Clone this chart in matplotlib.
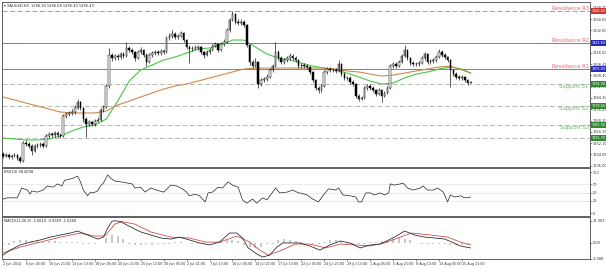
import matplotlib
matplotlib.use('Agg')
import matplotlib.pyplot as plt
import matplotlib.transforms as mtransforms
import numpy as np

# XAUUSD H4 candles (one candle per two H4 bars)
first_open = 1244.3
closes = [1242.9, 1243.6, 1242.1, 1242.9, 1243.6, 1241.4, 1239.3, 1252.1, 1251.4, 1250.0,
          1246.4, 1250.0, 1250.7, 1251.4, 1250.0, 1257.1, 1258.6, 1257.9, 1259.3, 1257.9,
          1257.1, 1271.4, 1272.9, 1273.6, 1274.3, 1277.1, 1281.4, 1277.1, 1269.3, 1265.7,
          1267.1, 1265.7, 1267.9, 1268.6, 1275.7, 1277.9, 1292.9, 1315.0, 1312.9, 1314.3,
          1313.6, 1315.7, 1314.3, 1320.0, 1318.6, 1317.1, 1312.9, 1317.1, 1318.6, 1315.0,
          1310.0, 1315.0, 1316.4, 1317.1, 1316.4, 1317.9, 1317.1, 1327.1, 1328.6, 1330.0,
          1327.9, 1328.6, 1330.7, 1325.7, 1320.7, 1319.3, 1320.0, 1320.0, 1320.7, 1317.1,
          1315.0, 1317.1, 1318.6, 1321.4, 1322.9, 1318.6, 1322.9, 1324.3, 1332.9, 1340.0,
          1344.3, 1338.6, 1337.9, 1338.6, 1336.4, 1322.1, 1310.0, 1307.1, 1310.0, 1294.3,
          1297.1, 1297.9, 1299.3, 1304.3, 1307.1, 1317.1, 1312.9, 1310.0, 1311.4, 1312.9,
          1314.3, 1312.9, 1311.4, 1307.1, 1307.9, 1307.1, 1306.4, 1302.9, 1297.1, 1291.4,
          1290.0, 1292.9, 1302.9, 1305.0, 1304.3, 1304.3, 1303.6, 1308.6, 1301.4, 1298.6,
          1298.6, 1295.7, 1294.3, 1285.7, 1283.6, 1284.3, 1291.4, 1292.9, 1291.4, 1290.0,
          1287.1, 1290.0, 1285.7, 1287.9, 1291.4, 1307.1, 1308.6, 1307.1, 1310.0, 1314.3,
          1318.6, 1312.9, 1309.3, 1308.6, 1308.6, 1309.3, 1312.9, 1315.7, 1310.0, 1310.7,
          1311.4, 1313.6, 1317.1, 1315.0, 1313.6, 1311.4, 1304.3, 1301.4, 1299.3, 1298.6,
          1299.3, 1297.1, 1295.0, 1295.4]
highs = [1245.6, 1245.0, 1244.9, 1244.2, 1245.3, 1244.4, 1242.6, 1253.6, 1254.0, 1252.7,
         1251.1, 1251.4, 1252.3, 1253.1, 1252.6, 1258.6, 1260.0, 1259.8, 1260.7, 1260.4,
         1259.0, 1272.9, 1274.6, 1275.2, 1276.1, 1279.3, 1283.6, 1282.5, 1278.0, 1270.4,
         1268.9, 1268.2, 1269.3, 1270.4, 1277.0, 1279.6, 1294.3, 1320.0, 1316.6, 1316.0,
         1315.9, 1317.4, 1316.9, 1324.3, 1321.6, 1320.0, 1318.0, 1318.9, 1320.4, 1319.6,
         1316.1, 1316.4, 1318.2, 1318.8, 1318.5, 1319.6, 1319.3, 1328.6, 1330.4, 1332.9,
         1331.2, 1330.3, 1332.3, 1331.6, 1326.8, 1321.9, 1321.8, 1321.9, 1322.4, 1321.6,
         1318.2, 1318.6, 1320.3, 1323.0, 1324.5, 1323.8, 1324.3, 1326.2, 1334.3, 1341.6,
         1346.4, 1345.3, 1340.4, 1340.5, 1339.7, 1337.3, 1323.0, 1311.5, 1313.2, 1311.0,
         1298.6, 1299.5, 1301.1, 1305.8, 1308.9, 1324.3, 1318.4, 1314.0, 1313.0, 1314.6,
         1316.1, 1315.6, 1314.2, 1312.3, 1309.6, 1309.2, 1308.5, 1307.5, 1303.8, 1298.2,
         1292.6, 1294.3, 1304.4, 1306.6, 1306.2, 1306.0, 1305.5, 1311.4, 1309.5, 1302.6,
         1300.3, 1299.7, 1297.0, 1295.2, 1286.9, 1286.0, 1292.9, 1294.6, 1294.0, 1292.7,
         1291.0, 1291.5, 1291.0, 1289.3, 1293.0, 1308.6, 1310.2, 1309.9, 1311.6, 1315.9,
         1322.1, 1319.5, 1313.8, 1310.8, 1310.3, 1311.0, 1314.4, 1317.1, 1316.6, 1312.3,
         1313.2, 1315.2, 1319.3, 1318.3, 1316.4, 1314.6, 1312.2, 1305.2, 1302.8, 1300.7,
         1300.9, 1300.2, 1297.9, 1296.6]
lows = [1241.5, 1241.8, 1240.6, 1240.9, 1242.0, 1239.8, 1237.9, 1238.8, 1250.2, 1248.6,
        1243.6, 1245.7, 1248.9, 1249.6, 1248.4, 1249.3, 1255.9, 1256.4, 1256.7, 1256.5,
        1255.6, 1256.4, 1270.0, 1271.5, 1272.2, 1273.0, 1276.4, 1275.7, 1267.5, 1256.4,
        1264.3, 1264.1, 1264.6, 1266.8, 1267.9, 1274.3, 1277.1, 1291.4, 1310.7, 1311.4,
        1311.8, 1312.5, 1312.6, 1313.6, 1317.0, 1315.4, 1311.0, 1312.0, 1315.9, 1313.5,
        1307.2, 1309.3, 1313.9, 1315.0, 1314.9, 1315.3, 1315.8, 1316.4, 1325.9, 1327.5,
        1326.4, 1326.8, 1327.6, 1324.2, 1319.0, 1309.3, 1318.1, 1318.3, 1318.6, 1315.6,
        1313.2, 1314.1, 1316.0, 1317.6, 1320.4, 1317.1, 1317.8, 1321.6, 1323.5, 1331.8,
        1339.3, 1337.2, 1336.3, 1336.6, 1334.8, 1320.9, 1308.2, 1305.6, 1306.3, 1291.4,
        1292.9, 1295.8, 1296.8, 1298.5, 1303.0, 1306.4, 1311.3, 1308.6, 1308.9, 1310.2,
        1311.6, 1311.1, 1309.8, 1305.5, 1305.9, 1305.4, 1304.9, 1301.3, 1295.4, 1289.7,
        1287.9, 1288.9, 1291.9, 1301.5, 1302.8, 1302.6, 1302.1, 1302.9, 1300.0, 1297.0,
        1297.1, 1294.1, 1292.8, 1284.0, 1282.1, 1282.6, 1283.5, 1290.0, 1289.9, 1288.5,
        1285.6, 1286.2, 1281.4, 1284.9, 1287.0, 1290.7, 1305.8, 1305.6, 1306.3, 1309.2,
        1313.6, 1311.4, 1307.8, 1307.0, 1307.1, 1307.4, 1308.5, 1311.8, 1308.5, 1308.9,
        1309.6, 1310.3, 1312.8, 1313.6, 1312.1, 1309.8, 1292.1, 1299.9, 1297.6, 1297.0,
        1297.4, 1295.6, 1293.6, 1294.9]

# moving averages, read every 8 bars
ma_bars = [0, 8, 16, 24, 32, 40, 48, 56, 64, 72, 80, 88, 96, 104, 112, 120, 128, 136, 144, 152,
           160, 168, 176, 184, 192, 200, 208, 216, 224, 232, 240, 248, 256, 264, 272, 280, 288,
           296, 304, 312, 320, 326]
ma_fast = [1255.7, 1255.0, 1254.3, 1254.3, 1255.0, 1257.1, 1260.7, 1263.6, 1265.0, 1269.3,
           1282.1, 1296.4, 1304.3, 1307.9, 1311.4, 1313.6, 1316.4, 1319.3, 1320.0, 1322.1,
           1325.7, 1325.7, 1320.7, 1315.7, 1312.9, 1311.4, 1309.3, 1307.1, 1305.7, 1304.3,
           1302.1, 1299.3, 1296.4, 1294.3, 1295.0, 1298.6, 1301.4, 1302.9, 1305.0, 1306.4,
           1305.0, 1302.1]
ma_slow = [1285.0, 1282.9, 1280.7, 1278.6, 1276.4, 1274.3, 1273.6, 1273.6, 1273.6, 1275.0,
           1279.3, 1282.1, 1285.0, 1287.9, 1290.7, 1292.9, 1294.3, 1296.4, 1298.6, 1300.7,
           1302.9, 1305.0, 1305.7, 1305.7, 1305.7, 1305.7, 1305.7, 1305.7, 1305.7, 1305.0,
           1303.6, 1302.9, 1301.4, 1300.0, 1300.7, 1302.1, 1303.6, 1305.0, 1306.4, 1307.1,
           1304.3, 1302.1]

# pivot levels
level_names = ['Resistance R3', 'Resistance R2', 'Resistance R1',
               'Support S1', 'Support S2', 'Support S3', '']
level_values = [1346.40, 1323.60, 1305.00, 1294.30, 1278.60, 1265.00, 1255.70]

price_ticks = [1236.00, 1244.05, 1252.10, 1260.15, 1268.20, 1276.25, 1284.30, 1292.35,
               1300.40, 1308.45, 1316.50, 1324.55, 1332.60, 1340.65, 1348.70]

# RSI(14)
rsi_bars = [0, 3, 7, 10, 13, 17, 19, 20, 24, 28, 31, 35, 38, 41, 43, 47, 49, 52, 54, 56,
            59, 61, 63, 66, 68, 70, 73, 75, 78, 82, 87, 90, 92, 96, 99, 103, 107, 112, 117, 121,
            125, 128, 130, 134, 137, 141, 143, 146, 150, 153, 157, 160, 164, 167, 170, 174, 177, 181,
            184, 188, 190, 193, 198, 202, 206, 207, 212, 216, 220, 223, 227, 232, 234, 237, 242,
            246, 248, 250, 253, 256, 259, 263, 266, 269, 270, 273, 277, 279, 282, 286, 291, 293,
            296, 300, 303, 307, 310, 312, 315, 319, 322, 326]
rsi_vals = [34, 37, 37, 37, 61, 56, 46, 54, 51, 56, 66, 63, 71, 66, 80, 83, 85, 90, 76, 56,
            42, 51, 49, 54, 66, 73, 93, 85, 78, 76, 73, 71, 61, 63, 51, 61, 56, 51, 68, 66,
            59, 51, 42, 46, 42, 27, 49, 51, 63, 61, 76, 68, 63, 32, 24, 34, 24, 37,
            32, 51, 61, 49, 51, 56, 49, 49, 44, 34, 27, 42, 59, 56, 61, 44, 42,
            39, 27, 27, 49, 49, 44, 49, 44, 49, 71, 68, 71, 73, 61, 56, 61, 66,
            56, 56, 61, 51, 27, 44, 39, 42, 37, 39]

# MACD(12,26,9)
macd_bars = [0, 5, 12, 19, 26, 33, 40, 47, 52, 59, 66, 70, 73, 76, 78, 82, 89, 96, 103, 110,
             117, 123, 130, 137, 144, 151, 158, 163, 167, 171, 177, 181, 186, 191, 195, 202, 207,
             214, 221, 228, 235, 242, 249, 256, 263, 269, 273, 280, 287, 294, 301, 308, 313, 319,
             326]
macd_vals = [-7.0, -4.2, -1.3, 0.3, 1.5, 3.1, 4.3, 5.4, 6.5, 4.3, 2.0, 3.1, 8.2, 12.0, 12.3,
             11.8, 8.8, 6.0, 4.3, 2.6, 2.0, 3.1, 1.5, -0.2, -1.3, 0.3, 5.4, 5.4, 2.6, -3.0,
             -6.4, -8.1, -7.0, -2.5, -0.2, -0.2, -0.2, -1.9, -4.2, -1.3, 0.9, -0.2, -3.0, -1.3,
             -0.8, 1.5, 3.1, 6.5, 4.3, 3.1, 2.6, 2.0, 0.3, -1.9, -3.0]
signal_bars = [0, 12, 26, 40, 54, 64, 71, 78, 83, 92, 103, 117, 130, 141, 151, 163, 172, 179,
               185, 193, 204, 214, 225, 235, 246, 256, 266, 277, 285, 298, 310, 319, 326]
signal_vals = [-5.8, -2.5, 0.3, 3.1, 5.4, 3.7, 3.7, 10.4, 11.8, 10.4, 6.0, 3.1, 2.6, 0.3, 0.3,
               3.7, 0.3, -4.2, -7.0, -4.7, -0.8, -0.8, -3.0, -0.8, -1.3, -1.9, -0.2, 3.1, 5.4,
               4.3, 3.1, 0.3, -1.3]
hist_vals = [-1.0, -1.2, 0.8, 1.2, 1.5, 1.0, 0.8, 0.6, 0.9, 0.7, 0.5, 0.4,
             0.3, 0.6, -0.8, -1.0, -0.6, -0.4, 2.5, 4.5, 4.0, 2.0, -0.8, -1.5,
             -1.5, -1.0, -1.2, -0.8, -0.6, -0.5, 0.4, 0.5, -0.3, -0.5, -0.8, -0.6,
             -0.4, 0.5, 0.8, 1.5, 1.6, 0.8, -1.2, -2.5, -2.8, -2.2, -1.0, -0.8,
             1.5, 2.2, 1.5, 0.8, 0.5, -0.4, -0.8, -1.0, 0.6, 1.2, 1.5, 1.0,
             -0.5, -0.8, -1.0, -0.5, 0.3, 0.5, 0.8, 1.0, 2.0, 2.5, 2.3, 1.2,
             -0.4, -0.6, -0.8, -0.8, -1.0, -0.9, -1.2, -1.5, -1.4, -1.6]

x_labels = ['2 Jun 2014', '6 Jun 05:00', '10 Jun 21:00', '13 Jun 13:00', '18 Jun 05:00',
            '20 Jun 21:00', '25 Jun 13:00', '30 Jun 05:00', '2 Jul 21:00', '7 Jul 13:00',
            '10 Jul 05:00', '14 Jul 21:00', '17 Jul 13:00', '22 Jul 05:00', '24 Jul 21:00',
            '29 Jul 13:00', '1 Aug 05:00', '5 Aug 21:00', '8 Aug 13:00', '13 Aug 05:00',
            '15 Aug 21:00']

# figure and panels
fig = plt.figure(figsize=(6.06, 2.69), dpi=100)
ax1 = fig.add_axes([0.0033, 0.3792, 0.9703, 0.6134])
ax2 = fig.add_axes([0.0033, 0.1970, 0.9703, 0.1785], sharex=ax1)
ax3 = fig.add_axes([0.0033, 0.0372, 0.9703, 0.1561], sharex=ax1)

for ax in (ax1, ax2, ax3):
    ax.yaxis.tick_right()
    ax.tick_params(axis='y', labelsize=2.5, length=1.2, width=0.4, pad=0.8, colors='#333333')
    ax.tick_params(axis='x', labelsize=2.4, length=1.2, width=0.4, pad=0.8, colors='#333333')
    for s in ax.spines.values():
        s.set_color('#606060')
        s.set_linewidth(0.7)
ax1.tick_params(axis='x', labelbottom=False, length=0)
ax2.tick_params(axis='x', labelbottom=False, length=0)
ax1.set_xlim(-0.7, 409.3)

# candles
c = np.array(closes)
o = np.array([first_open] + closes[:-1])
bars = np.arange(0, 2 * len(closes), 2)
up = c >= o
ax1.vlines(bars, lows, highs, color='black', lw=0.45, zorder=3)
ax1.bar(bars[up], (c - o)[up], bottom=o[up], width=1.1, color='white',
        edgecolor='black', lw=0.35, zorder=4)
ax1.bar(bars[~up], (c - o)[~up], bottom=o[~up], width=1.1, color='black',
        edgecolor='black', lw=0.35, zorder=4)

ax1.plot(ma_bars, ma_fast, color='#45c845', lw=0.8, zorder=2)
ax1.plot(ma_bars, ma_slow, color='#cf8a4a', lw=0.8, zorder=2)

# pivot lines, labels and price boxes
trans = mtransforms.blended_transform_factory(ax1.transAxes, ax1.transData)
for name, val in zip(level_names, level_values):
    if name.startswith('Resistance R3'):
        ax1.axhline(val, color='#e07070', lw=0.6, ls=(0, (6, 3)), zorder=1)
        txt_color, box_color, va = '#e06a6a', '#d03434', 'bottom'
    elif name.startswith('Resistance'):
        ax1.axhline(val, color='#7878c8', lw=0.7, zorder=1)
        txt_color, box_color, va = '#e06a7a', '#2a2ac0', 'bottom'
    else:
        ax1.axhline(val, color='#a9b3a9', lw=0.6, ls=(0, (6, 3)), zorder=1)
        txt_color, box_color, va = '#6cb46c', '#2f8a2f', 'top'
    if name:
        ax1.text(0.998, val, name, transform=trans, ha='right', va=va,
                 fontsize=3.8, color=txt_color)
    ax1.text(1.003, val, f'{val:.2f}', transform=trans, ha='left', va='center',
             fontsize=2.4, color='white', clip_on=False, zorder=6,
             bbox=dict(boxstyle='square,pad=0.25', fc=box_color, ec='none'))

ax1.set_ylim(1235.0, 1352.9)
ax1.set_yticks(price_ticks)
ax1.set_yticklabels([f'{t:.2f}' for t in price_ticks])
ax1.text(0.004, 0.985, '\u25be XAUUSD,H4  1296.34 1296.58 1295.43 1295.43',
         transform=ax1.transAxes, ha='left', va='top', fontsize=2.6, color='#222222')

# RSI
for lvl in (30, 50, 70):
    ax2.axhline(lvl, color='#dddddd', lw=0.4)
ax2.plot(rsi_bars, rsi_vals, color='#222222', lw=0.5)
ax2.set_ylim(-7.3, 109.8)
ax2.set_yticks([0, 30, 50, 70, 100])
ax2.set_yticklabels(['0', '30', '50', '70', '100'])
ax2.text(0.004, 0.96, 'RSI(14) 38.4038', transform=ax2.transAxes, ha='left', va='top',
         fontsize=2.6, color='#222222')

# MACD
hist_bars = np.arange(0, 4 * len(hist_vals), 4)
ax3.bar(hist_bars, hist_vals, width=1.4, color='#c8c8c8', zorder=1)
ax3.plot(macd_bars, macd_vals, color='#222222', lw=0.55, zorder=3)
ax3.plot(signal_bars, signal_vals, color='#d04040', lw=0.55, zorder=2)
ax3.set_ylim(-9.2, 14.4)
ax3.set_yticks([-9.088, 0.0, 12.303])
ax3.set_yticklabels(['-9.088', '0.00', '12.303'])
ax3.text(0.004, 0.96, 'MACD(12,26,9) -2.5619 -0.9359 -1.6260', transform=ax3.transAxes,
         ha='left', va='top', fontsize=2.6, color='#222222')

ax3.set_xticks(np.arange(0, 16 * len(x_labels), 16))
ax3.set_xticklabels(x_labels)
for lab in ax3.get_xticklabels():
    lab.set_ha('left')

fig.savefig('out.png', dpi=100)
